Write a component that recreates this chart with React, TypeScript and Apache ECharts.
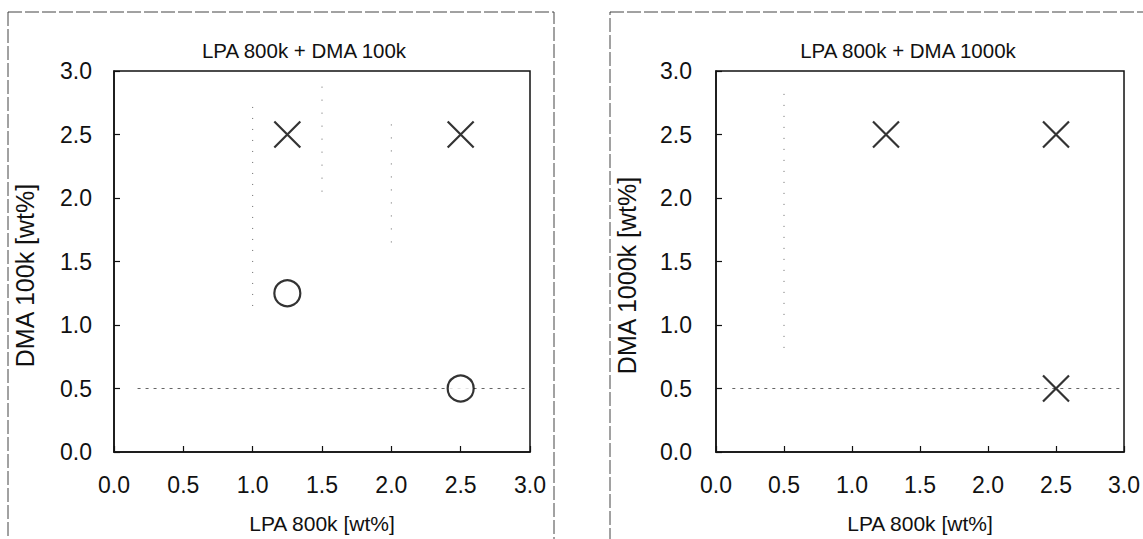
import React, { useEffect, useRef } from "react";
import * as echarts from "echarts";

// Panel titles and axis names
const titles = ["LPA 800k + DMA 100k", "LPA 800k + DMA 1000k"];
const xNames = ["LPA 800k [wt%]", "LPA 800k [wt%]"];
const yNames = ["DMA 100k [wt%]", "DMA 1000k [wt%]"];

// Axis range
const axisMin = 0;
const axisMax = 3;
const axisStep = 0.5;

// Left panel points [LPA, DMA]
const leftCross: number[][] = [
  [1.25, 2.5],
  [2.5, 2.5],
];
const leftCircle: number[][] = [
  [1.25, 1.25],
  [2.5, 0.5],
];

// Right panel points
const rightCross: number[][] = [
  [1.25, 2.5],
  [2.5, 2.5],
  [2.5, 0.5],
];

// Faint dotted guide lines (as printed)
const leftGuideH: number[][] = [
  [0.17, 0.5],
  [3.0, 0.5],
];
const leftGuideV1: number[][] = [
  [1.0, 1.15],
  [1.0, 2.72],
];
const leftGuideV2: number[][] = [
  [1.5, 2.05],
  [1.5, 2.88],
];
const leftGuideV3: number[][] = [
  [2.0, 1.65],
  [2.0, 2.65],
];
const rightGuideH: number[][] = [
  [0.12, 0.5],
  [3.0, 0.5],
];
const rightGuideV: number[][] = [
  [0.5, 0.82],
  [0.5, 2.82],
];

const FONT = "Liberation Sans, Arial, sans-serif";
const CROSS = "path://M0,0L10,10M10,0L0,10";

export default function App() {
  const ref = useRef<HTMLDivElement>(null);

  useEffect(() => {
    if (!ref.current) return;
    const chart = echarts.init(ref.current, null, { renderer: "svg" });

    const grids = [
      { left: 114, top: 71, width: 416, height: 381 },
      { left: 716, top: 71, width: 414, height: 381 },
    ];

    const mkX = (i: number) => ({
      type: "value",
      gridIndex: i,
      min: axisMin,
      max: axisMax,
      interval: axisStep,
      name: xNames[i],
      nameLocation: "middle",
      nameGap: 61,
      nameTextStyle: { fontFamily: FONT, fontSize: 21, color: "#111" },
      axisLine: { show: true, lineStyle: { color: "#111", width: 1.5 } },
      axisTick: { show: true, inside: true, length: 6, lineStyle: { color: "#111", width: 1.2 } },
      axisLabel: {
        fontFamily: FONT,
        fontSize: 23,
        color: "#111",
        margin: 21,
        formatter: (v: number) => v.toFixed(1),
      },
      splitLine: { show: false },
    });

    const mkY = (i: number) => ({
      type: "value",
      gridIndex: i,
      min: axisMin,
      max: axisMax,
      interval: axisStep,
      name: yNames[i],
      nameLocation: "middle",
      nameGap: 77,
      nameTextStyle: {
        fontFamily: FONT,
        fontSize: 25,
        color: "#111",
        padding: [0, 28, 0, 0],
      },
      axisLine: { show: true, lineStyle: { color: "#111", width: 1.5 } },
      axisTick: { show: true, inside: true, length: 6, lineStyle: { color: "#111", width: 1.2 } },
      axisLabel: {
        fontFamily: FONT,
        fontSize: 23,
        color: "#111",
        margin: i === 0 ? 22 : 24,
        formatter: (v: number) => v.toFixed(1),
      },
      splitLine: { show: false },
    });

    const guide = (data: number[][], i: number, dash: number[]) => ({
      type: "line",
      xAxisIndex: i,
      yAxisIndex: i,
      data,
      symbol: "none",
      silent: true,
      z: 1,
      lineStyle: { color: "#666", width: 1, type: dash },
    });

    const cross = (data: number[][], i: number) => ({
      type: "scatter",
      xAxisIndex: i,
      yAxisIndex: i,
      data,
      symbol: CROSS,
      symbolSize: 26,
      z: 3,
      itemStyle: { color: "transparent", borderColor: "#000", borderWidth: 2.2 },
    });

    const circle = (data: number[][], i: number) => ({
      type: "scatter",
      xAxisIndex: i,
      yAxisIndex: i,
      data,
      symbol: "circle",
      symbolSize: 26,
      z: 3,
      itemStyle: { color: "#fff", borderColor: "#000", borderWidth: 2.2 },
    });

    chart.setOption({
      animation: false,
      backgroundColor: "#fff",
      title: [
        {
          text: titles[0],
          left: 299,
          top: 35,
          textAlign: "center",
          textStyle: { fontFamily: FONT, fontSize: 20.5, fontWeight: "normal", color: "#111" },
        },
        {
          text: titles[1],
          left: 903,
          top: 35,
          textAlign: "center",
          textStyle: { fontFamily: FONT, fontSize: 20.5, fontWeight: "normal", color: "#111" },
        },
      ],
      grid: grids.map((g) => ({
        ...g,
        show: true,
        borderColor: "#111",
        borderWidth: 1.5,
        backgroundColor: "transparent",
      })),
      xAxis: [mkX(0), mkX(1)],
      yAxis: [mkY(0), mkY(1)],
      graphic: [
        {
          type: "rect",
          shape: { x: 8, y: 12, width: 546, height: 600 },
          style: { fill: "none", stroke: "#444", lineWidth: 1, lineDash: [14, 3] },
          silent: true,
        },
        {
          type: "rect",
          shape: { x: 610, y: 12, width: 600, height: 600 },
          style: { fill: "none", stroke: "#444", lineWidth: 1, lineDash: [14, 3] },
          silent: true,
        },
      ],
      series: [
        guide(leftGuideH, 0, [3, 5]),
        guide(leftGuideV1, 0, [1, 10]),
        guide(leftGuideV2, 0, [1, 12]),
        guide(leftGuideV3, 0, [1, 12]),
        guide(rightGuideH, 1, [3, 5]),
        guide(rightGuideV, 1, [1, 10]),
        cross(leftCross, 0),
        circle(leftCircle, 0),
        cross(rightCross, 1),
      ],
    });

    return () => chart.dispose();
  }, []);

  return (
    <div
      ref={ref}
      style={{ position: "fixed", left: 0, top: 0, width: 1143, height: 539 }}
    />
  );
}
